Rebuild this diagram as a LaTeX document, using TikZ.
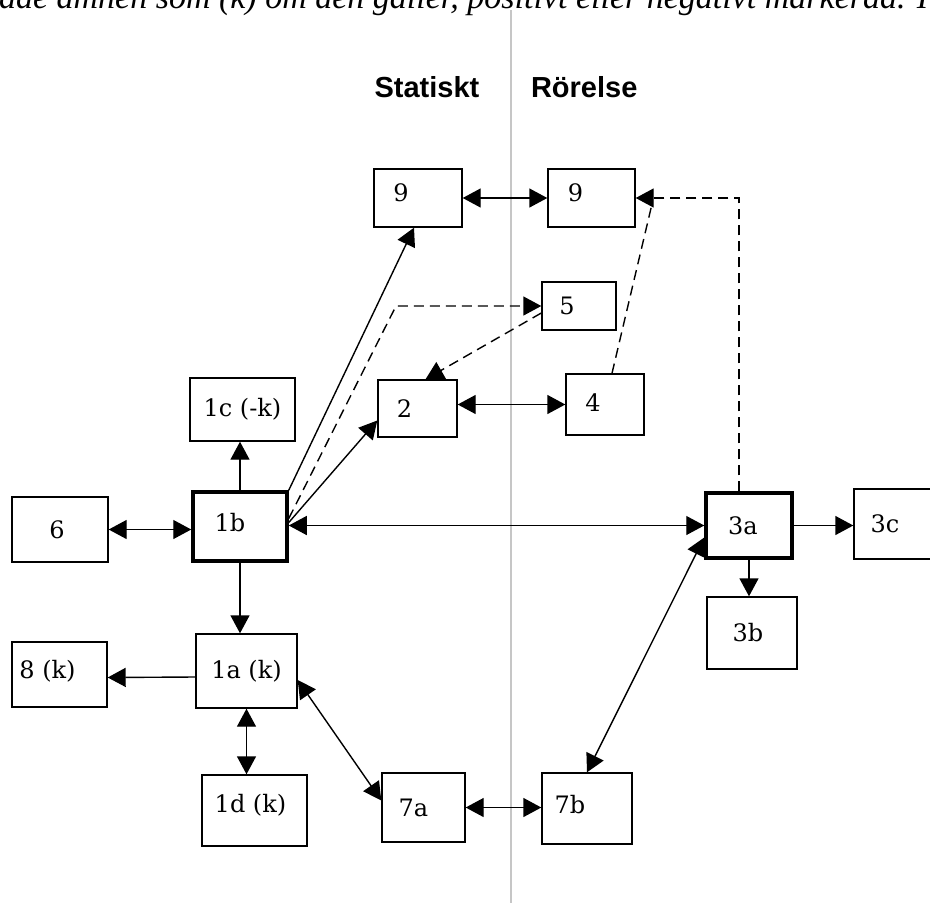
\documentclass[tikz,border=0pt]{standalone}
\usepackage{fontspec}
\setmainfont{DejaVu Serif}
\newfontfamily\headfont{Liberation Sans}
\newfontfamily\topfont{Liberation Serif}
\usepackage{tikz}
\usetikzlibrary{arrows.meta}
% text a bit off the middle of its box: #1 = room on the right, #2 = lift
\newcommand{\lbl}[3]{\raisebox{#2}{#3}\hspace*{#1}}

\begin{document}
\begin{tikzpicture}[x=1pt, y=-1pt, line width=1.4pt,
    box/.style={draw, line width=1.4pt, inner sep=0pt, font=\fontsize{24}{24}\selectfont},
    bold box/.style={box, line width=3.5pt},
    link/.style={-{Triangle[length=18pt,width=19pt]}},
    both/.style={{Triangle[length=18pt,width=19pt]}-{Triangle[length=18pt,width=19pt]}},
    dashline/.style={dash pattern=on 10pt off 6pt}]
   \useasboundingbox (0,0) rectangle (930,903);
   \clip (0,0) rectangle (930,903);
   % Cut line of text above (only its lower part shows)
   \node[font=\topfont\itshape\fontsize{34}{34}\selectfont, anchor=base west, inner sep=0pt] (toptext) at (-91,8)
      {värderade ämnen som (k) om den gäller, positivt eller negativt markerad. I};
    % Divider and headings
    \draw[gray!45, line width=1.2pt] (511,10) -- (511,903);
    \node[font=\headfont\bfseries\fontsize{29}{29}\selectfont] (stat) at (427,87) {Statiskt};
    \node[font=\headfont\bfseries\fontsize{29}{29}\selectfont, anchor=west] (ror) at (527,87) {Rörelse};

    % Boxes
    \node[box, minimum width=88pt, minimum height=58pt] (n9l) at (418,198) {\lbl{34pt}{10pt}{9}};
    \node[box, minimum width=87pt, minimum height=58pt] (n9r) at (591.5,198) {\lbl{32pt}{10pt}{9}};
    \node[box, minimum width=74pt, minimum height=48pt] (n5) at (579,306) {\lbl{24pt}{0pt}{5}};
    \node[box, minimum width=79pt, minimum height=57pt] (n2) at (417.5,408.5) {\lbl{26pt}{0pt}{2}};
    \node[box, minimum width=78pt, minimum height=61pt] (n4) at (605,404.5) {\lbl{24pt}{4pt}{4}};
    \node[box, minimum width=105pt, minimum height=63pt] (n1c) at (242.5,409.5) {1c (-k)};
    \node[box, minimum width=96pt, minimum height=65pt] (n6) at (60,529.5) {\lbl{6pt}{0pt}{6}};
    \node[bold box, minimum width=94pt, minimum height=69pt] (n1b) at (240,526.5) {\lbl{20pt}{8pt}{1b}};
    \node[bold box, minimum width=86pt, minimum height=65pt] (n3a) at (749,525.5) {\lbl{12pt}{-6pt}{3a}};
    \node[box, minimum width=91pt, minimum height=70pt] (n3c) at (899.5,524) {\lbl{29pt}{0pt}{3c}};
    \node[box, minimum width=90pt, minimum height=72pt] (n3b) at (752,633) {\lbl{8pt}{-8pt}{3b}};
    \node[box, minimum width=95pt, minimum height=65pt] (n8) at (59.5,674.5) {\lbl{24pt}{10pt}{8 (k)}};
    \node[box, minimum width=101pt, minimum height=74pt] (n1a) at (246.5,671) {1a (k)};
    \node[box, minimum width=105pt, minimum height=71pt] (n1d) at (254.5,810.5) {\lbl{8pt}{14pt}{1d (k)}};
    \node[box, minimum width=83pt, minimum height=69pt] (n7a) at (423.5,807.5) {\lbl{20pt}{0pt}{7a}};
    \node[box, minimum width=90pt, minimum height=71pt] (n7b) at (587,808.5) {\lbl{34pt}{8pt}{7b}};

    % Solid arrows
    \draw[both] (n9l) -- (n9r);
    \draw[both] (n2.east |- n4.west) -- (n4.west);
    \draw[both] (n6) -- (n1b.west |- n6);
    \draw[both] (n1b.east |- n3a) -- (n3a.west);
    \draw[link] (n3a.east) -- (n3c.west |- n3a.east);
    \draw[link] (n3a.south) -- (n3a.south |- n3b.north);
    \draw[link] (n1b.north) -- (n1b.north |- n1c.south);
    \draw[link] (n1b.south) -- (n1b.south |- n1a.north);
    \draw[link] ([yshift=-6pt]n1a.west) -- ([yshift=-3pt]n8.east);
    \draw[both] (n1a.south) -- (n1a.south |- n1d.north);
    \draw[both] ([yshift=-9pt]n1a.east) -- ([yshift=7pt]n7a.west);
    \draw[both] ([yshift=-12pt]n3a.west) -- (n7b.north);
    \draw[both] (n7a.east) -- (n7a.east -| n7b.west);
    \draw[link] (n1b.north east) -- ([xshift=-4pt]n9l.south);
    \draw[link] ([yshift=4pt]n1b.east) -- ([yshift=-12pt]n2.west);

    % Dashed arrows
    \coordinate (k5) at (396,306);
    \coordinate (k4) at (652,204);
    \coordinate (k9) at (739,198);
    \draw[dashline, link] ([yshift=8pt]n1b.east) -- (k5) -- (n5.west);
    \draw[dashline, link] ([yshift=-7pt]n5.west) -- ([xshift=8pt]n2.north);
    \draw[dashline] ([xshift=7pt]n4.north) -- (k4);
    \draw[dashline, link] (k9 |- n3a.north) -- (k9) -- (n9r.east);
\end{tikzpicture}
\end{document}
